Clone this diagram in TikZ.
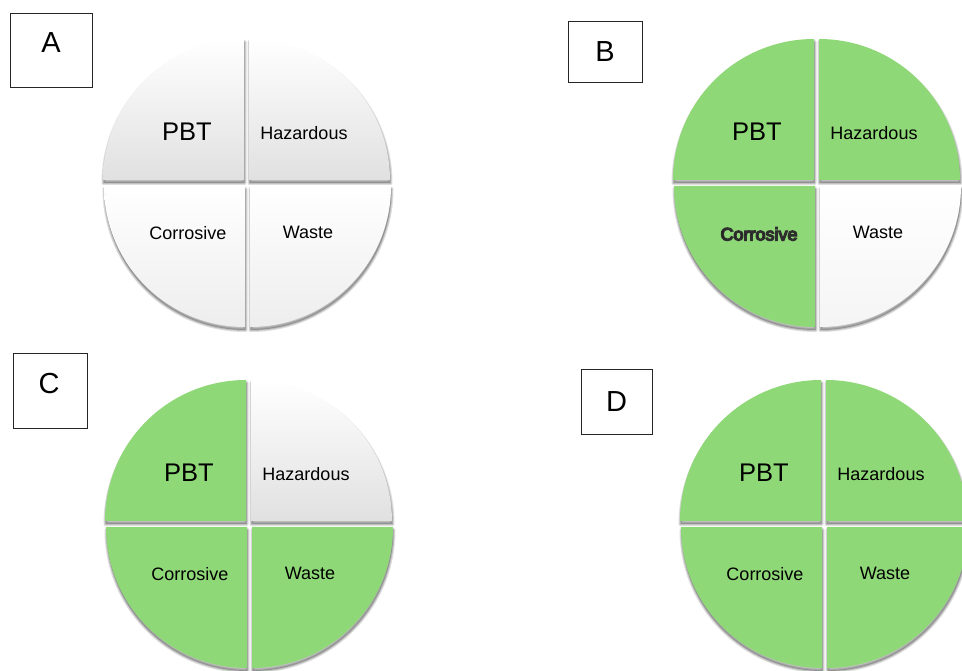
\documentclass[tikz,border=0pt]{standalone}
\usepackage{fontspec}
\setmainfont{Liberation Sans}
\definecolor{leafgreen}{RGB}{143,216,119}
\tikzset{
  greenq/.style={fill=leafgreen},
  paleup/.style={top color=white,bottom color=black!12},
  paledown/.style={top color=white,bottom color=black!7},
  plainq/.style={top color=white,bottom color=black!4},
  tagbox/.style={draw=black!85,line width=0.9pt,inner sep=0pt},
  tagletter/.style={inner sep=0pt,font=\fontsize{29}{29}\selectfont},
  biglabel/.style={inner sep=0pt,font=\fontsize{25.5}{25.5}\selectfont},
  qlabel/.style={inner sep=0pt,font=\fontsize{18}{18}\selectfont},
  qshadow/.style={black,opacity=0.13,line join=round},
}
% text with a dark soft outline (fill + stroke render mode)
\newcommand\haloed[1]{%
  \special{pdf:literal direct 2 Tr 1.3 w 0.18 G}#1\special{pdf:literal direct 0 Tr 0.4 w 0 G}}
% #1,#2 centre of the disc; #3..#6 fill styles of the quarters
% (upper left, upper right, lower left, lower right); #7 name suffix
\newcommand\riskpie[7]{%
  % soft drop shadows under the four quarters
  \foreach \ang/\dx/\dy in {90/-3/3, 0/2/3, 180/-2/-3, 270/3/-3} {
    \foreach \w in {4,2} {
      \filldraw[qshadow,line width=\w pt]
        ({#1+\dx+0.5},{#2+\dy-3}) -- ++(\ang:141)
        arc[start angle=\ang,delta angle=90,radius=141] -- cycle;
    }
  }
  % the quarters
  \path[#3] ({#1-3},{#2+3}) -- ++(90:141)
    arc[start angle=90,delta angle=90,radius=141] -- cycle;
  \path[#4] ({#1+2},{#2+3}) -- ++(0:141)
    arc[start angle=0,delta angle=90,radius=141] -- cycle;
  \path[#5] ({#1-2},{#2-3}) -- ++(180:141)
    arc[start angle=180,delta angle=90,radius=141] -- cycle;
  \path[#6] ({#1+3},{#2-3}) -- ++(270:141)
    arc[start angle=270,delta angle=90,radius=141] -- cycle;
  % quarter captions
  \node[biglabel] (pbt#7)   at ({#1-60},{#2+51.5}) {PBT};
  \node[qlabel]   (haz#7)   at ({#1+57},{#2+49.5}) {Hazardous};
  \node[qlabel]   (waste#7) at ({#1+61},{#2-49.5}) {Waste};
}
\begin{document}
\begin{tikzpicture}[x=1pt,y=1pt]
  \useasboundingbox (0,0) rectangle (962,670);
  \clip (0,0) rectangle (962,670);
  \fill[white] (0,0) rectangle (962,670);

  % panel A
  \node[tagbox,minimum width=82pt,minimum height=74pt] (boxA) at (51,620) {};
  \node[tagletter] (letA) at (51,627.5) {A};
  \riskpie{247}{487}{paleup}{paleup}{paledown}{paledown}{A}
  \node[qlabel] (corrA) at (188,436.5) {Corrosive};

  % panel C
  \node[tagbox,minimum width=74pt,minimum height=75pt] (boxC) at (50,279.5) {};
  \node[tagletter] (letC) at (49,286.5) {C};
  \riskpie{249}{146}{greenq}{paleup}{greenq}{greenq}{C}
  \node[qlabel] (corrC) at (190,95.5) {Corrosive};

  % panel D
  \node[tagbox,minimum width=71pt,minimum height=65pt] (boxD) at (616.5,268.5) {};
  \node[tagletter] (letD) at (616.5,268) {D};
  \riskpie{824}{146}{greenq}{greenq}{greenq}{greenq}{D}
  \node[qlabel] (corrD) at (765,95.5) {Corrosive};

  % panel B
  \node[tagbox,minimum width=74pt,minimum height=61pt] (boxB) at (605,618.5) {};
  \node[tagletter] (letB) at (605,618.5) {B};
  \riskpie{817}{487}{greenq}{greenq}{greenq}{plainq}{B}
  \node[qlabel] (corrB) at (759,436) {\haloed{Corrosive}};
\end{tikzpicture}
\end{document}
